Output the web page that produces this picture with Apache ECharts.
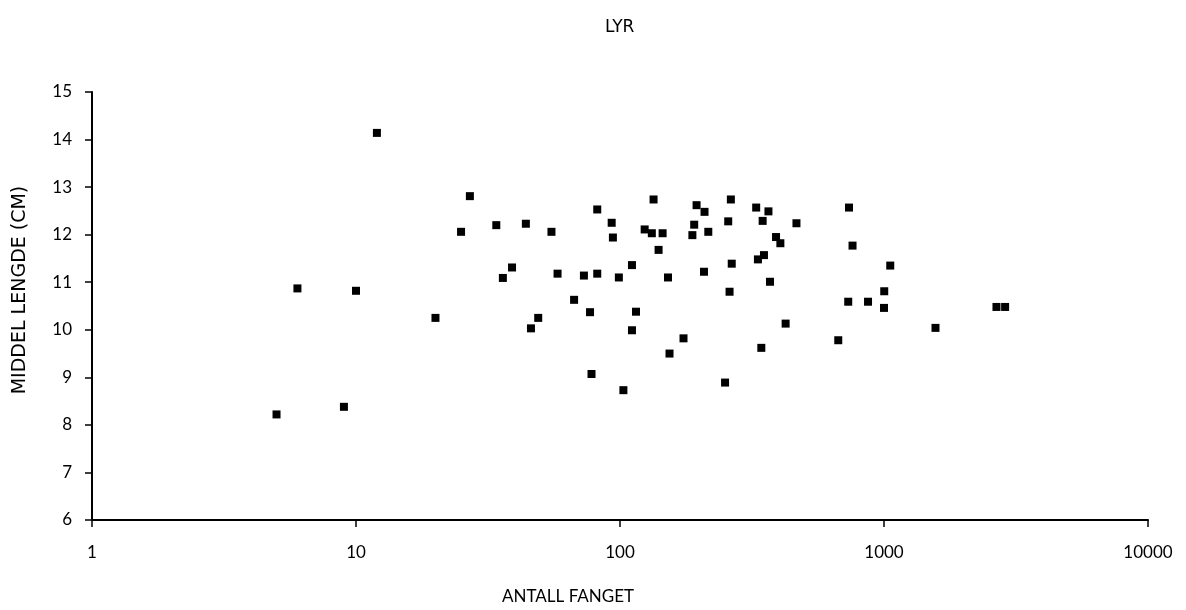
<!DOCTYPE html>
<html>
<head>
<meta charset="utf-8">
<title>LYR</title>
<script src="https://cdn.jsdelivr.net/npm/echarts@6/dist/echarts.min.js"></script>
<style>
  html, body { margin: 0; padding: 0; background: #ffffff; }
  #chart { width: 1186px; height: 610px; }
</style>
</head>
<body>
<div id="chart"></div>
<script>
// Antall fanget (x) og middel lengde i cm (y) for hver stasjon
const antall = [
  5, 6, 9, 10, 12, 27, 134, 82, 25, 34,
  44, 55, 93, 94, 124, 132, 145, 140, 39, 36,
  58, 73, 82, 99, 111, 152, 67, 77, 115, 20,
  49, 46, 111, 154, 78, 103, 195, 209, 263, 328,
  365, 737, 191, 257, 347, 466, 188, 216, 390, 405,
  760, 351, 333, 265, 1056, 208, 370, 260, 1002, 732,
  870, 1000, 424, 1567, 174, 343, 671, 250, 2667, 2876
];
const lengde = [
  8.22, 10.87, 8.38, 10.82, 14.14, 12.81, 12.74, 12.53, 12.06, 12.20,
  12.23, 12.06, 12.25, 11.94, 12.11, 12.03, 12.03, 11.68, 11.31, 11.09,
  11.18, 11.14, 11.18, 11.10, 11.36, 11.10, 10.63, 10.37, 10.38, 10.25,
  10.25, 10.03, 9.99, 9.50, 9.07, 8.73, 12.62, 12.48, 12.74, 12.57,
  12.49, 12.57, 12.21, 12.28, 12.29, 12.24, 11.99, 12.06, 11.95, 11.82,
  11.77, 11.57, 11.48, 11.39, 11.35, 11.22, 11.01, 10.80, 10.81, 10.59,
  10.59, 10.46, 10.13, 10.04, 9.82, 9.62, 9.78, 8.89, 10.48, 10.48
];
const xTickLabels = ['1', '10', '100', '1000', '10000'];
const yTickLabels = ['6', '7', '8', '9', '10', '11', '12', '13', '14', '15'];

const FONT = 'Lato, "DejaVu Sans", sans-serif';
const WIDE_FONT = '"DejaVu Sans", sans-serif';
const points = antall.map((v, i) => [v, lengde[i]]);

const chart = echarts.init(document.getElementById('chart'), null, { renderer: 'canvas' });

const axisLine = { show: true, lineStyle: { color: '#000', width: 2 } };
const tickStyle = { color: '#000', width: 1.5 };

chart.setOption({
  backgroundColor: '#ffffff',
  animation: false,
  title: {
    text: 'LYR',
    left: 600,
    top: 14,
    textStyle: { fontFamily: WIDE_FONT, fontSize: 17, fontWeight: 'normal', color: '#000' }
  },
  grid: { left: 92, right: 38, top: 92, bottom: 90, containLabel: false },
  xAxis: {
    type: 'log', logBase: 10, min: 1, max: 10000,
    axisLine: axisLine,
    axisTick: { show: true, inside: false, length: 7, lineStyle: tickStyle },
    minorTick: { show: false },
    splitLine: { show: false },
    axisLabel: {
      margin: 24, color: '#000', fontFamily: FONT, fontSize: 17,
      formatter: v => xTickLabels[Math.round(Math.log10(v))]
    },
    name: 'ANTALL FANGET',
    nameLocation: 'middle',
    nameGap: 68,
    nameTextStyle: { color: '#000', fontFamily: FONT, fontSize: 17, padding: [0, 104, 0, 0] }
  },
  yAxis: {
    type: 'value', min: 6, max: 15, interval: 1,
    axisLine: axisLine,
    axisTick: { show: true, inside: false, length: 7, lineStyle: tickStyle },
    splitLine: { show: false },
    axisLabel: {
      margin: 20, color: '#000', fontFamily: FONT, fontSize: 17,
      formatter: v => yTickLabels[Math.round(v) - 6]
    },
    name: 'MIDDEL LENGDE (CM)',
    nameLocation: 'middle',
    nameGap: 62,
    nameTextStyle: { color: '#000', fontFamily: WIDE_FONT, fontSize: 19, padding: [0, 0, 0, 32] }
  },
  series: [
    {
      type: 'scatter',
      symbol: 'rect',
      symbolSize: 8,
      itemStyle: { color: '#000', opacity: 1 },
      data: points
    }
  ]
});
</script>
</body>
</html>
